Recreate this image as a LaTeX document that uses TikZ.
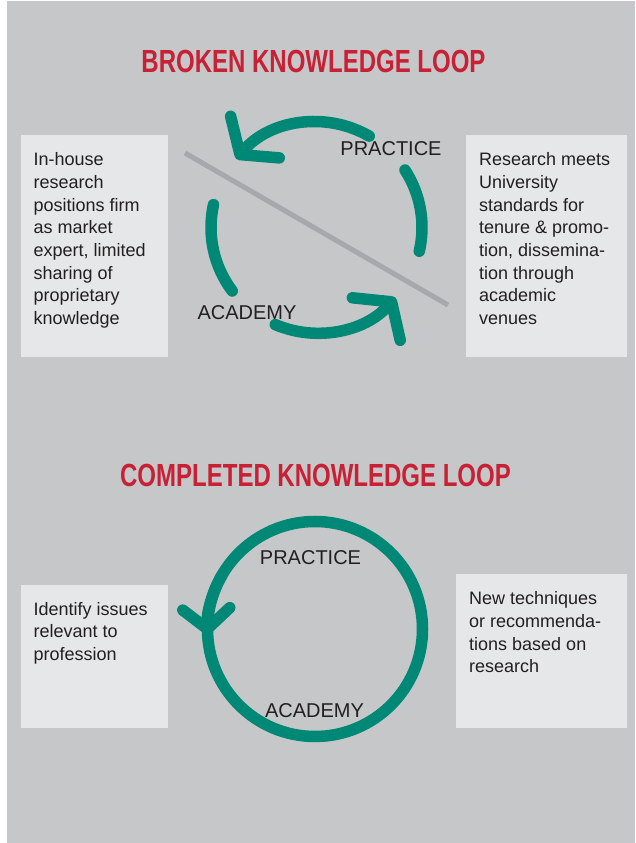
\documentclass[tikz,border=0pt]{standalone}
\usepackage{fontspec}
\setmainfont{Liberation Sans}
\newfontfamily\fuentetitulo[FakeStretch=0.75]{Liberation Sans}
\usepackage{tikz}
\usetikzlibrary{arrows.meta, positioning}

\definecolor{fondo}{RGB}{198,199,201}
\definecolor{relleno}{RGB}{230,231,232}
\definecolor{verdeciclo}{RGB}{0,136,118}
\definecolor{rojotitulo}{RGB}{200,32,52}
\definecolor{grislinea}{RGB}{166,168,171}
\definecolor{tinta}{RGB}{35,31,32}

\begin{document}
\begin{tikzpicture}[
        x=1pt, y=1pt,
        titulo/.style={
            font=\fuentetitulo\bfseries\fontsize{32}{36}\selectfont,
            text=rojotitulo,
            inner sep=0pt
        },
        caja/.style={
            rectangle,
            fill=relleno,
            anchor=north west,
            inner sep=0pt
        },
        texto/.style={
            font=\fontsize{18}{22.7}\selectfont,
            text=tinta,
            align=left,
            inner sep=0pt
        },
        etiqueta/.style={
            font=\fontsize{20}{24}\selectfont,
            text=tinta,
            inner sep=0pt
        },
        ciclo/.style={
            draw=verdeciclo,
            line width=11.5pt,
            line cap=round
        },
        flecha/.style={
            ciclo,
            -{Straight Barb[round, length=23pt, width=64pt]}
        },
        flechachica/.style={
            ciclo,
            -{Straight Barb[round, length=20pt, width=47pt]}
        },
        corte/.style={
            draw=grislinea,
            line width=5pt
        }
    ]

    \useasboundingbox (0,0) rectangle (635,843);
    \fill[fondo] (7,0) rectangle (635,842);

    \node[titulo] (roto) at (313.5,781.5) {BROKEN KNOWLEDGE LOOP};
    \node[titulo] (completo) at (315.5,368) {COMPLETED KNOWLEDGE LOOP};

    % broken loop
    \coordinate (cicloA) at (316.5,615.5);

    \draw[flecha] ([shift={(60:105.5pt)}]cicloA)
        arc[start angle=60, end angle=139.5, radius=105.5pt];
    \draw[ciclo] ([shift={(33:105.5pt)}]cicloA)
        arc[start angle=33, end angle=-13, radius=105.5pt];
    \draw[ciclo] ([shift={(167.5:105.5pt)}]cicloA)
        arc[start angle=167.5, end angle=217, radius=105.5pt];
    \draw[flecha] ([shift={(247:105.5pt)}]cicloA)
        arc[start angle=247, end angle=318.4, radius=105.5pt];

    \draw[corte] (185,690) -- (448,538);

    \node[etiqueta] (practicaA) at (391,694.5) {PRACTICE};
    \node[etiqueta] (academiaA) at (247,530.5) {ACADEMY};

    % completed loop
    \coordinate (cicloB) at (315,214);

    \draw[ciclo] (cicloB) circle[radius=107.5pt];
    \draw[flechachica] ([shift={(150:107.5pt)}]cicloB)
        arc[start angle=150, end angle=183, radius=107.5pt];

    \node[etiqueta] (practicaB) at (310.5,285.5) {PRACTICE};
    \node[etiqueta] (academiaB) at (314.5,132.5) {ACADEMY};

    % side boxes
    \node[caja, minimum width=147pt, minimum height=222pt] (cajaA) at (21,708) {};
    \node[caja, minimum width=161pt, minimum height=222pt] (cajaB) at (466,708) {};
    \node[caja, minimum width=147pt, minimum height=143pt] (cajaC) at (21,258) {};
    \node[caja, minimum width=171pt, minimum height=154pt] (cajaD) at (456,269) {};

    \node[texto, below right=17.5pt and 12.5pt of cajaA.north west] (textoA) {
        In-house\\
        research\\
        positions firm\\
        as market\\
        expert, limited\\
        sharing of\\
        proprietary\\
        knowledge
    };

    \node[texto, below right=17.5pt and 13pt of cajaB.north west] (textoB) {
        Research meets\\
        University\\
        standards for\\
        tenure \& promo-\\
        tion, dissemina-\\
        tion through\\
        academic\\
        venues
    };

    \node[texto, below right=17pt and 12.5pt of cajaC.north west] (textoC) {
        Identify issues\\
        relevant to\\
        profession
    };

    \node[texto, below right=17.5pt and 13pt of cajaD.north west] (textoD) {
        New techniques\\
        or recommenda-\\
        tions based on\\
        research
    };

\end{tikzpicture}
\end{document}
